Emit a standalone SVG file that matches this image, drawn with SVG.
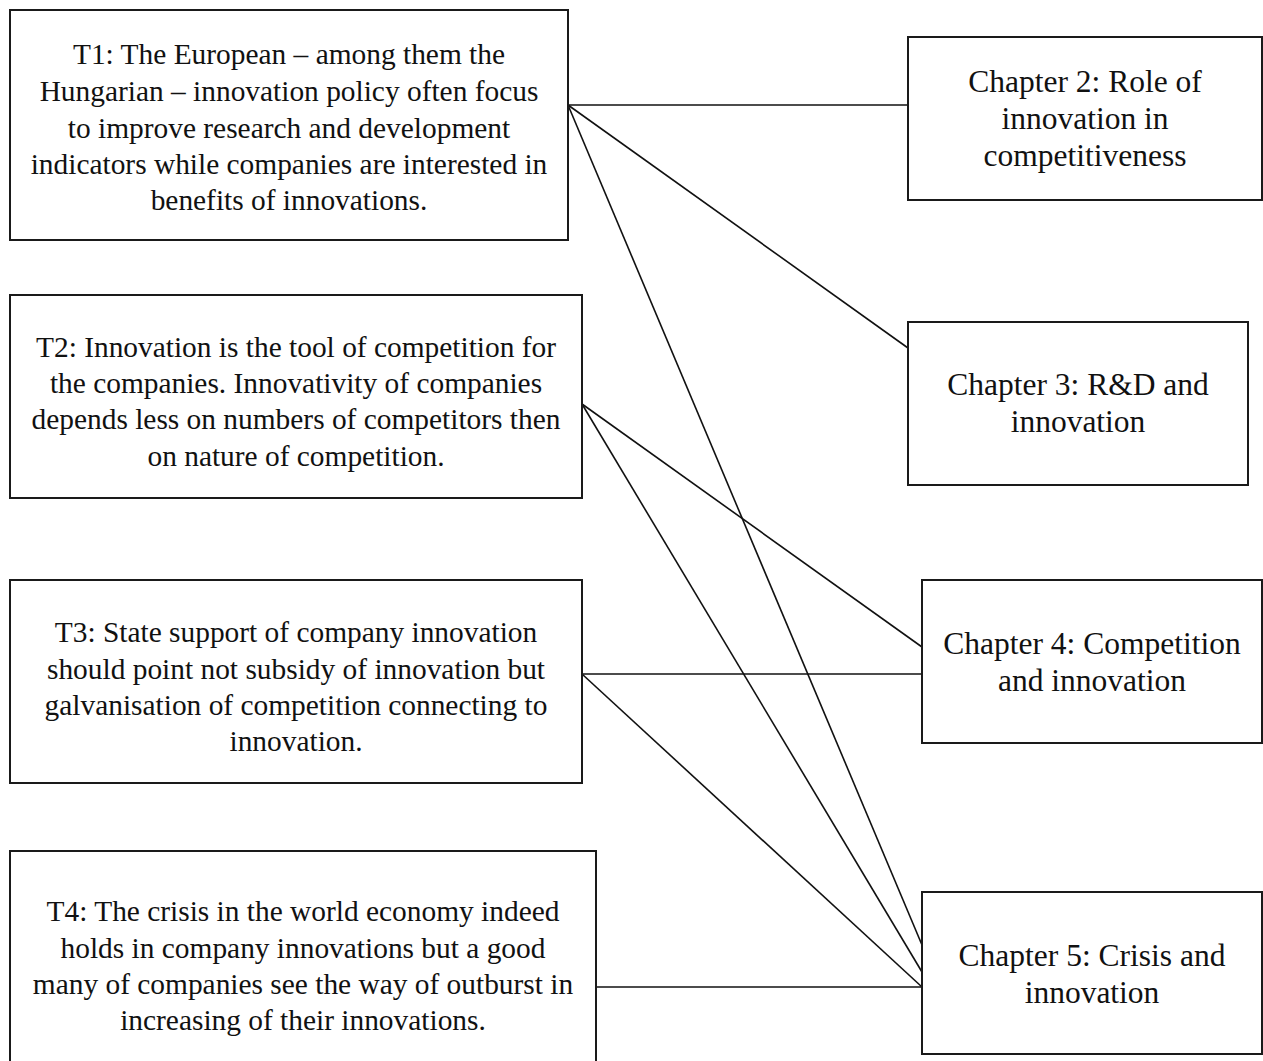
<svg xmlns="http://www.w3.org/2000/svg" width="1263" height="1061" viewBox="0 0 1263 1061">
<style>
.box{fill:#fff;stroke:#1a1a1a;stroke-width:2}
.t{font-family:"Liberation Serif","Times New Roman",serif;font-size:29.4px;fill:#111;text-anchor:middle}
.c{font-family:"Liberation Serif","Times New Roman",serif;font-size:31.5px;fill:#111;text-anchor:middle}
.ln{stroke:#111;stroke-width:1.6;fill:none}
</style>
<rect width="1263" height="1061" fill="#fff"/>
<g id="connectors">
<line class="ln" x1="568" y1="105" x2="908" y2="105"/>
<line class="ln" x1="568" y1="105" x2="908" y2="348"/>
<line class="ln" x1="568" y1="105" x2="922" y2="945"/>
<line class="ln" x1="582" y1="404" x2="922" y2="647"/>
<line class="ln" x1="582" y1="404" x2="922" y2="972"/>
<line class="ln" x1="582" y1="674" x2="922" y2="674"/>
<line class="ln" x1="582" y1="674" x2="922" y2="987"/>
<line class="ln" x1="596" y1="987" x2="922" y2="987"/>
</g>
<g id="T1">
<rect class="box" x="10" y="10" width="558" height="230"/>
<text class="t" x="289"><tspan x="289" y="64">T1: The European – among them the</tspan><tspan x="289" y="101">Hungarian – innovation policy often focus</tspan><tspan x="289" y="138">to improve research and development</tspan><tspan x="289" y="174">indicators while companies are interested in</tspan><tspan x="289" y="210">benefits of innovations.</tspan></text>
</g>
<g id="T2">
<rect class="box" x="10" y="295" width="572" height="203"/>
<text class="t"><tspan x="296" y="357">T2: Innovation is the tool of competition for</tspan><tspan x="296" y="393">the companies. Innovativity of companies</tspan><tspan x="296" y="429">depends less on numbers of competitors then</tspan><tspan x="296" y="466">on nature of competition.</tspan></text>
</g>
<g id="T3">
<rect class="box" x="10" y="580" width="572" height="203"/>
<text class="t"><tspan x="296" y="642">T3: State support of company innovation</tspan><tspan x="296" y="679">should point not subsidy of innovation but</tspan><tspan x="296" y="715">galvanisation of competition connecting to</tspan><tspan x="296" y="751">innovation.</tspan></text>
</g>
<g id="T4">
<rect class="box" x="10" y="851" width="586" height="215"/>
<text class="t"><tspan x="303" y="921">T4: The crisis in the world economy indeed</tspan><tspan x="303" y="958">holds in company innovations but a good</tspan><tspan x="303" y="994">many of companies see the way of outburst in</tspan><tspan x="303" y="1030">increasing of their innovations.</tspan></text>
</g>
<g id="Ch2">
<rect class="box" x="908" y="37" width="354" height="163"/>
<text class="c"><tspan x="1085" y="92">Chapter 2: Role of</tspan><tspan x="1085" y="129">innovation in</tspan><tspan x="1085" y="166">competitiveness</tspan></text>
</g>
<g id="Ch3">
<rect class="box" x="908" y="322" width="340" height="163"/>
<text class="c"><tspan x="1078" y="395">Chapter 3: R&amp;D and</tspan><tspan x="1078" y="432">innovation</tspan></text>
</g>
<g id="Ch4">
<rect class="box" x="922" y="580" width="340" height="163"/>
<text class="c"><tspan x="1092" y="654">Chapter 4: Competition</tspan><tspan x="1092" y="691">and innovation</tspan></text>
</g>
<g id="Ch5">
<rect class="box" x="922" y="892" width="340" height="162"/>
<text class="c"><tspan x="1092" y="966">Chapter 5: Crisis and</tspan><tspan x="1092" y="1003">innovation</tspan></text>
</g>
</svg>
